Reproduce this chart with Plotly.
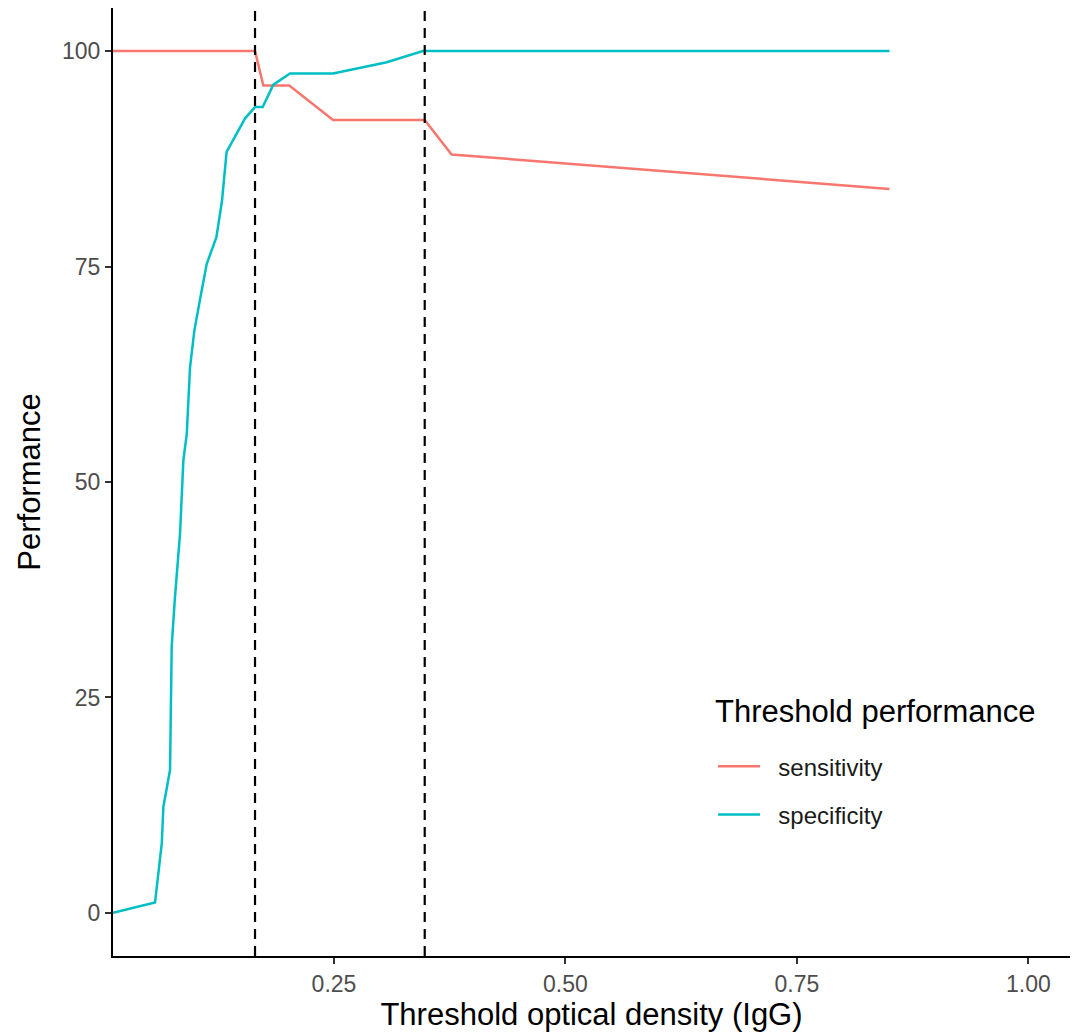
import plotly.graph_objects as go

# Data
sens_x = [0.0113, 0.1647, 0.1737, 0.2017, 0.249, 0.348, 0.377, 0.850]
sens_y = [100, 100, 96, 96, 92, 92, 88, 84]

spec_x = [0.0113, 0.0567, 0.064, 0.0657, 0.0729, 0.0747, 0.078, 0.0837, 0.0873,
          0.091, 0.0945, 0.0992, 0.105, 0.1125, 0.123, 0.129, 0.134, 0.154,
          0.1647, 0.173, 0.1845, 0.2025, 0.249, 0.307, 0.346, 0.850]
spec_y = [0, 1.2, 8.1, 12.3, 16.6, 30.9, 36.3, 44.0, 52.5,
          55.6, 63.3, 67.6, 71.0, 75.3, 78.4, 82.6, 88.3, 92.2,
          93.5, 93.5, 96.1, 97.4, 97.4, 98.7, 100, 100]

cutoffs = [0.1647, 0.348]

x_ticks = [0.25, 0.50, 0.75, 1.00]
x_tick_text = ["0.25", "0.50", "0.75", "1.00"]
y_ticks = [0, 25, 50, 75, 100]

RED = "#F8766D"
CYAN = "#00BFC4"
FONT = "Liberation Sans, Arial, sans-serif"
NB = "\u00a0\u00a0"

fig = go.Figure()
fig.add_trace(go.Scatter(x=sens_x, y=sens_y, mode="lines", name=NB + "sensitivity",
                         legendgroup="a", line=dict(color=RED, width=2.5)))
fig.add_trace(go.Scatter(x=spec_x, y=spec_y, mode="lines", name=NB + "specificity",
                         legendgroup="b", line=dict(color=CYAN, width=2.5)))

for c in cutoffs:
    fig.add_shape(type="line", x0=c, x1=c, xref="x", y0=0, y1=1, yref="paper",
                  line=dict(color="black", width=2.2, dash="10px,7px"), layer="above")

fig.add_annotation(text="Threshold performance", xref="paper", yref="paper",
                   x=0.627, y=0.2584, xanchor="left", yanchor="middle", showarrow=False,
                   font=dict(size=31, color="black", family=FONT))

fig.update_layout(
    width=1076, height=1033,
    margin=dict(l=113, r=6, t=8, b=77),
    plot_bgcolor="white", paper_bgcolor="white",
    font=dict(family=FONT, color="black"),
    legend=dict(
        x=0.627, y=0.2234, xanchor="left", yanchor="top",
        font=dict(size=24, color="#1a1a1a"),
        bgcolor="rgba(0,0,0,0)", itemwidth=42, tracegroupgap=14,
    ),
)
fig.update_xaxes(
    range=[0.0113, 1.045], tickvals=x_ticks, ticktext=x_tick_text,
    showgrid=False, zeroline=False, showline=True, linecolor="black", linewidth=2,
    ticks="outside", ticklen=6, tickwidth=1.5, tickcolor="#333333",
    tickfont=dict(size=23, color="#4D4D4D"),
    title=dict(text="Threshold optical density (IgG)", font=dict(size=31, color="black"), standoff=6),
)
fig.update_yaxes(
    range=[-5, 105], tickvals=y_ticks,
    showgrid=False, zeroline=False, showline=True, linecolor="black", linewidth=2,
    ticks="outside", ticklen=6, tickwidth=1.5, tickcolor="#333333",
    tickfont=dict(size=23, color="#4D4D4D"),
    title=dict(text="Performance", font=dict(size=31, color="black"), standoff=12),
)

fig.write_html("out.html")
